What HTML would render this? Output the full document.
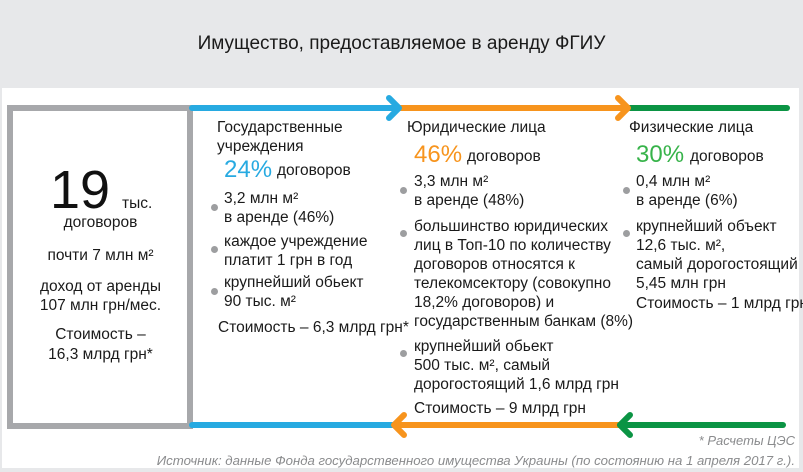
<!DOCTYPE html>
<html><head><meta charset="utf-8"><style>
body{margin:0;width:803px;height:472px;background:#e7e8ea;position:relative;overflow:hidden;font-family:"Liberation Sans",sans-serif;color:#1a1a1a}
.a{position:absolute;white-space:nowrap;font-size:15.5px;line-height:19px}
.d{position:absolute;width:7px;height:7px;border-radius:50%;background:#9d9ea0}
.c{text-align:center}
</style></head><body>
<div class="a" style="left:0;width:803px;top:32px;text-align:center;font-size:19px;line-height:24px;font-family:'Liberation Sans Narrow','Liberation Sans',sans-serif">Имущество, предоставляемое в аренду ФГИУ</div>
<div style="position:absolute;left:2px;top:88px;width:797px;height:380px;background:#fff"></div>
<svg style="position:absolute;left:0;top:0" width="803" height="472">
<rect x="10" y="108" width="180" height="318" fill="none" stroke="#a7a8ab" stroke-width="6"/>
<g stroke-width="6" stroke-linecap="round" fill="none" stroke-linejoin="round">
<line x1="192" y1="108" x2="398" y2="108" stroke="#27aae1"/>
<line x1="400" y1="108" x2="627" y2="108" stroke="#f7941d"/>
<line x1="630" y1="108" x2="787" y2="108" stroke="#0b9444"/>
<polyline points="389,98 399,108 389,118" stroke="#27aae1"/>
<polyline points="618,98 628,108 618,118" stroke="#f7941d"/>
<line x1="192" y1="425" x2="400" y2="425" stroke="#27aae1"/>
<line x1="396" y1="425" x2="620" y2="425" stroke="#f7941d"/>
<line x1="620" y1="425" x2="783" y2="425" stroke="#0b9444"/>
<polyline points="404,415 394,425 404,435" stroke="#f7941d"/>
<polyline points="630,415 620,425 630,435" stroke="#0b9444"/>
</g></svg>
<div class="a" style="left:50px;top:162px;font-size:54px;line-height:56px;color:#111">19</div>
<div class="a" style="left:122px;top:194px;font-size:15.5px">тыс.</div>
<div class="a c" style="left:8px;width:185px;top:213px">договоров</div>
<div class="a c" style="left:8px;width:185px;top:246px">почти 7 млн м²</div>
<div class="a c" style="left:8px;width:185px;top:277px">доход от аренды<br>107 млн грн/мес.</div>
<div class="a c" style="left:8px;width:185px;top:325px;line-height:20px">Стоимость –<br>16,3 млрд грн*</div>

<div class="a" style="left:217px;top:118px">Государственные<br>учреждения</div>
<div class="a" style="left:224px;top:156px;font-size:24px;line-height:28px;color:#27aae1">24%</div>
<div class="a" style="left:277px;top:161px">договоров</div>
<div class="d" style="left:211px;top:204px"></div>
<div class="a" style="left:224px;top:189px">3,2 млн м²<br>в аренде (46%)</div>
<div class="d" style="left:211px;top:246px"></div>
<div class="a" style="left:224px;top:232px">каждое учреждение<br>платит 1 грн в год</div>
<div class="d" style="left:211px;top:288px"></div>
<div class="a" style="left:224px;top:273px">крупнейший обьект<br>90 тыс. м²</div>
<div class="a" style="left:218px;top:318px">Стоимость – 6,3 млрд грн*</div>

<div class="a" style="left:407px;top:118px">Юридические лица</div>
<div class="a" style="left:414px;top:141px;font-size:24px;line-height:28px;color:#f7941d">46%</div>
<div class="a" style="left:467px;top:147px">договоров</div>
<div class="d" style="left:400px;top:187px"></div>
<div class="a" style="left:414px;top:172px">3,3 млн м²<br>в аренде  (48%)</div>
<div class="d" style="left:400px;top:230px"></div>
<div class="a" style="left:414px;top:217px">большинство юридических<br>лиц в Топ-10 по количеству<br>договоров относятся к<br>телекомсектору (совокупно<br>18,2% договоров) и<br>государственным банкам (8%)</div>
<div class="d" style="left:400px;top:350px"></div>
<div class="a" style="left:414px;top:337px">крупнейший обьект<br>500 тыс. м², самый<br>дорогостоящий 1,6 млрд грн</div>
<div class="a" style="left:414px;top:399px">Стоимость – 9 млрд грн</div>

<div class="a" style="left:629px;top:118px">Физические лица</div>
<div class="a" style="left:636px;top:141px;font-size:24px;line-height:28px;color:#37b34a">30%</div>
<div class="a" style="left:690px;top:147px">договоров</div>
<div class="d" style="left:623px;top:187px"></div>
<div class="a" style="left:636px;top:172px">0,4 млн м²<br>в аренде  (6%)</div>
<div class="d" style="left:623px;top:230px"></div>
<div class="a" style="left:636px;top:217px">крупнейший объект<br>12,6 тыс. м²,<br>самый дорогостоящий<br>5,45 млн грн</div>
<div class="a" style="left:636px;top:294px">Стоимость – 1 млрд грн</div>

<div class="a" style="right:8px;top:431px;font-size:13px;font-style:italic;color:#8a8b8d">* Расчеты ЦЭС</div>
<div class="a" style="right:8px;top:451px;font-size:13.2px;font-style:italic;color:#8a8b8d">Источник: данные Фонда государственного имущества Украины (по состоянию на 1 апреля 2017 г.).</div>
</body></html>
